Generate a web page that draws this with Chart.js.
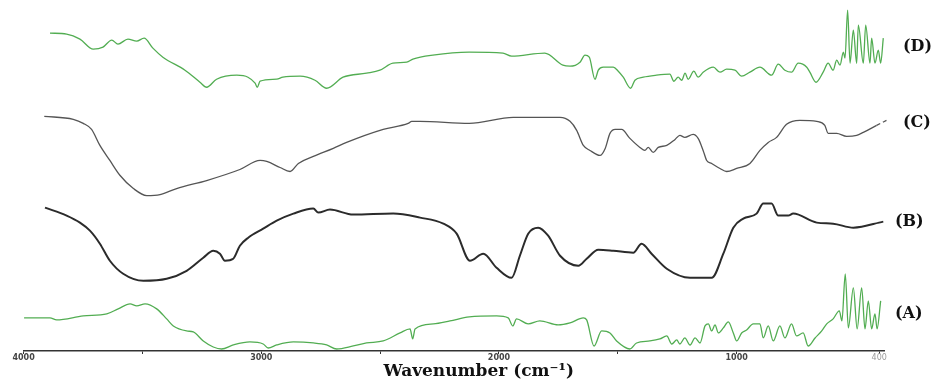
<!DOCTYPE html>
<html><head><meta charset="utf-8">
<script src="https://cdn.jsdelivr.net/npm/chart.js@4.4.0/dist/chart.umd.min.js"></script>
<style>html,body{margin:0;padding:0;background:#fff}</style>
</head><body>
<canvas id="c" width="941" height="382"></canvas>
<script>
// ---- data (wavenumber, cm-1 ; relative transmittance, offset per trace) ----
const tickValues = [4000, 3500, 3000, 2500, 2000, 1500, 1000, 400];
const tickLabels = ['4000', '', '3000', '', '2000', '', '1000', '400'];
const seriesNames = ['(D)', '(C)', '(B)', '(A)'];
const axisTitle = 'Wavenumber (cm\u207B\u00B9)';

const dWn = [3889,3819,3763,3707,3666,3629,3603,3561,3524,3493,3456,3414,3321,3258,3230,3188,3103,3056,3026,3017,3005,2935,2909,2837,2774,2725,2656,2557,2501,2446,2388,2362,2278,2126,1983,1947,1807,1731,1701,1659,1638,1620,1596,1582,1561,1519,1498,1477,1446,1428,1393,1337,1281,1264,1246,1231,1217,1204,1180,1162,1141,1098,1070,1042,1007,979,944,902,853,825,797,769,741,705,692,666,636,615,594,579,565,551,544,533,523,509,495,488,467,457,439,432,418,404,394,383];
const dT = [317,316,311,301,303,310,306,311,309,312,302,293,280,268,263,271,275,273,267,263,269,271,273,274,270,262,273,277,280,287,288,291,295,298,297,294,297,285,284,288,295,293,271,280,283,283,279,273,262,270,273,275,276,269,273,270,277,271,279,273,278,283,278,281,280,274,278,283,275,286,280,278,287,283,278,268,278,287,280,290,285,298,292,340,287,320,287,325,287,325,287,312,287,300,287,312];

const cWn = [3913,3791,3749,3714,3679,3637,3594,3538,3482,3426,3356,3230,3090,3005,2977,2921,2879,2844,2781,2697,2641,2487,2382,2367,2332,2125,1940,1743,1701,1673,1645,1617,1575,1553,1533,1511,1484,1449,1407,1386,1372,1351,1330,1294,1259,1239,1218,1183,1162,1141,1126,1105,1070,1042,1000,944,902,867,832,790,734,663,629,615,579,537,495,467,411,369];
const cT = [234,231,227,221,205,190,175,162,155,156,162,170,181,190,189,183,179,187,194,202,208,221,227,229,229,227,233,233,229,220,205,200,195,202,217,221,221,212,203,200,203,198,203,205,211,215,213,216,212,200,190,187,182,179,182,187,200,208,213,226,230,229,225,217,217,214,215,218,225,230];

const bWn = [3910,3819,3763,3721,3679,3637,3581,3496,3398,3314,3244,3202,3174,3153,3118,3090,3055,2992,2935,2865,2781,2760,2711,2613,2445,2332,2234,2178,2122,2066,2010,1947,1912,1877,1835,1793,1743,1666,1631,1582,1519,1435,1400,1358,1294,1196,1105,1056,1014,972,916,888,853,825,783,762,663,594,509,383];
const bT = [143,135,128,120,107,90,77,70,72,80,93,100,97,90,92,105,113,122,130,137,142,138,141,136,137,133,127,117,90,97,83,73,95,117,123,115,95,85,92,101,100,98,107,97,82,73,73,97,123,132,137,147,147,135,135,137,128,127,123,129];

const aWn = [3998,3889,3861,3749,3650,3602,3552,3524,3489,3440,3398,3370,3314,3286,3244,3202,3167,3118,3048,2992,2971,2935,2865,2781,2725,2683,2613,2557,2487,2416,2374,2363,2353,2276,2206,2125,2010,1961,1942,1926,1877,1828,1751,1701,1645,1631,1600,1568,1533,1505,1449,1421,1365,1323,1294,1273,1252,1239,1218,1196,1175,1154,1133,1119,1105,1091,1077,1056,1035,1014,1000,979,958,930,902,888,867,846,818,797,769,748,720,699,670,642,621,594,568,557,543,530,509,493,474,460,446,432,418,409,394];
const aT = [33,33,31,35,37,42,47,45,47,42,32,25,20,19,10,4,2,6,9,7,3,6,9,8,6,2,5,8,10,18,22,12,22,27,30,34,35,33,25,32,27,30,26,28,33,31,5,20,18,10,2,8,10,12,15,7,11,7,13,6,13,8,25,27,20,26,18,23,29,18,10,18,21,27,27,13,25,10,25,13,27,15,18,5,13,20,27,32,40,30,77,23,63,22,63,22,50,22,37,22,50];

// ---- chart ----
const pts = (xs, ys) => xs.map((x, i) => ({ x: x, y: ys[i] }));
const GREEN = '#52ad52';

const textPlugin = {
  id: 'seriesLabels',
  afterDatasetsDraw(chart, args, opts) {
    const { ctx, chartArea } = chart;
    const yS = chart.scales.y;
    ctx.save();
    ctx.fillStyle = '#111';
    ctx.textBaseline = 'middle';
    ctx.textAlign = 'left';
    ctx.font = 'bold 16px "DejaVu Serif"';
    opts.items.forEach(it => {
      ctx.fillText(it.text, chartArea.right + it.dx, yS.getPixelForValue(it.level));
    });
    // x-axis title (offset to the right of the plot centre, as in the source figure)
    ctx.textAlign = 'center';
    ctx.font = 'bold 17px "DejaVu Serif"';
    const tx = chartArea.left + (chartArea.right - chartArea.left) * opts.titlePos;
    ctx.fillText(opts.title, tx, chart.height - opts.titleBottom);
    ctx.restore();
  }
};

new Chart(document.getElementById('c'), {
  type: 'line',
  data: {
    datasets: [
      { label: seriesNames[0], data: pts(dWn, dT), borderColor: GREEN, borderWidth: 1.3 },
      { label: seriesNames[1], data: pts(cWn, cT), borderColor: '#555', borderWidth: 1.3,
        segment: { borderDash: c => (c.p0.parsed.x < 440 ? [4, 3] : undefined) } },
      { label: seriesNames[2], data: pts(bWn, bT), borderColor: '#2b2b2b', borderWidth: 2 },
      { label: seriesNames[3], data: pts(aWn, aT), borderColor: GREEN, borderWidth: 1.3 }
    ]
  },
  options: {
    responsive: false,
    animation: false,
    elements: { point: { radius: 0 }, line: { cubicInterpolationMode: 'monotone', fill: false } },
    datasets: { line: { clip: false } },
    layout: { padding: { left: 23.6, right: 57, top: 0, bottom: 20 } },
    plugins: {
      legend: { display: false },
      tooltip: { enabled: false },
      seriesLabels: {
        title: axisTitle, titlePos: 0.529, titleBottom: 10,
        items: [
          { text: seriesNames[0], level: 303, dx: 19 },
          { text: seriesNames[1], level: 228, dx: 19 },
          { text: seriesNames[2], level: 129, dx: 11 },
          { text: seriesNames[3], level: 37, dx: 11 }
        ]
      }
    },
    scales: {
      x: {
        type: 'linear', reverse: true, min: 380, max: 4000,
        afterBuildTicks: s => { s.ticks = tickValues.map(v => ({ value: v })); },
        ticks: {
          autoSkip: false, maxRotation: 0, minRotation: 0, padding: 0,
          callback: (v) => { const i = tickValues.indexOf(v); return i >= 0 ? tickLabels[i] : ''; },
          color: c => (c.tick && c.tick.value === 400 ? '#9a9a9a' : '#444'),
          font: c => (c.tick && c.tick.value === 400
            ? { family: 'DejaVu Sans', size: 8, weight: 'normal', lineHeight: 1 }
            : { family: 'DejaVu Sans', size: 8, weight: 'bold', lineHeight: 1 })
        },
        grid: { display: true, drawOnChartArea: false, drawTicks: true, tickLength: 3, color: '#333', lineWidth: 1 },
        border: { display: true, color: '#333', width: 1.5 },
        title: { display: false }
      },
      y: { display: false, min: 0, max: 350 }
    }
  },
  plugins: [textPlugin]
});
</script>
</body></html>
